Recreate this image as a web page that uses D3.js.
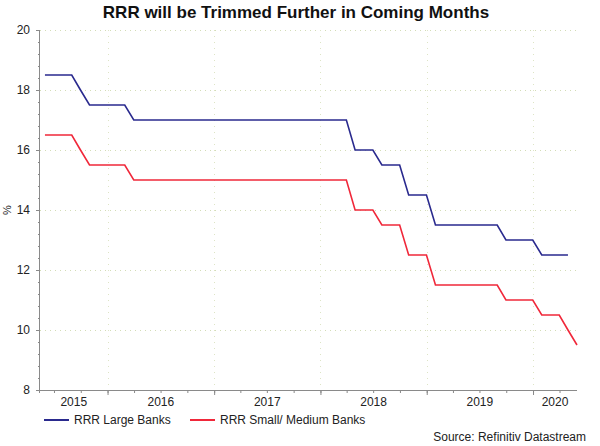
<!DOCTYPE html>
<html>
<head>
<meta charset="utf-8">
<script src="https://cdn.jsdelivr.net/npm/d3@7"></script>
<style>
  body { margin: 0; background: #fff; }
  text { font-family: "Liberation Sans", Arial, sans-serif; }
</style>
</head>
<body>
<svg id="chart" width="600" height="446"></svg>
<script>
// month-end observations, year-month
var months = [
  '2015-05','2015-06','2015-07','2015-08','2015-09','2015-10','2015-11','2015-12',
  '2016-01','2016-02','2016-03','2016-04','2016-05','2016-06','2016-07','2016-08','2016-09','2016-10','2016-11','2016-12',
  '2017-01','2017-02','2017-03','2017-04','2017-05','2017-06','2017-07','2017-08','2017-09','2017-10','2017-11','2017-12',
  '2018-01','2018-02','2018-03','2018-04','2018-05','2018-06','2018-07','2018-08','2018-09','2018-10','2018-11','2018-12',
  '2019-01','2019-02','2019-03','2019-04','2019-05','2019-06','2019-07','2019-08','2019-09','2019-10','2019-11','2019-12',
  '2020-01','2020-02','2020-03','2020-04','2020-05'
];
var largeBanks = [
  18.5,18.5,18.5,18.5,18.0,17.5,17.5,17.5,
  17.5,17.5,17.0,17.0,17.0,17.0,17.0,17.0,17.0,17.0,17.0,17.0,
  17.0,17.0,17.0,17.0,17.0,17.0,17.0,17.0,17.0,17.0,17.0,17.0,
  17.0,17.0,17.0,16.0,16.0,16.0,15.5,15.5,15.5,14.5,14.5,14.5,
  13.5,13.5,13.5,13.5,13.5,13.5,13.5,13.5,13.0,13.0,13.0,13.0,
  12.5,12.5,12.5,12.5
];
var smallMediumBanks = [
  16.5,16.5,16.5,16.5,16.0,15.5,15.5,15.5,
  15.5,15.5,15.0,15.0,15.0,15.0,15.0,15.0,15.0,15.0,15.0,15.0,
  15.0,15.0,15.0,15.0,15.0,15.0,15.0,15.0,15.0,15.0,15.0,15.0,
  15.0,15.0,15.0,14.0,14.0,14.0,13.5,13.5,13.5,12.5,12.5,12.5,
  11.5,11.5,11.5,11.5,11.5,11.5,11.5,11.5,11.0,11.0,11.0,11.0,
  10.5,10.5,10.5,10.0,9.5
];
var yearLabels = ['2015','2016','2017','2018','2019','2020'];
var yTicks = [8, 10, 12, 14, 16, 18, 20];
var seriesNames = ['RRR Large Banks', 'RRR Small/ Medium Banks'];

(function () {
var colors = ['#2a2a8e', '#f0283a'];
var svg = d3.select('#chart');
var left = 40, right = 577, plotTop = 30, plotBottom = 390;

function monthEnd(s) {
    var p = s.split('-');
    return new Date(+p[0], +p[1], 0);
}

var x = d3.scaleTime()
    .domain([new Date(2015, 4, 14), new Date(2020, 4, 31)])
    .range([left, right]);
var y = d3.scaleLinear().domain([8, 20]).range([plotBottom, plotTop]);

// title
svg.append('text')
    .attr('x', 296).attr('y', 18)
    .attr('text-anchor', 'middle')
    .style('font-size', '17px').style('font-weight', 'bold')
    .attr('fill', '#111')
    .text('RRR will be Trimmed Further in Coming Months');

// grid (faint dotted)
var yearStarts = yearLabels.map(function(d){ return new Date(+d, 0, 1); })
    .filter(function(d){ return d > x.domain()[0]; });
svg.append('g').selectAll('line').data(yTicks.filter(function(d){ return d > 8; }))
  .enter().append('line')
    .attr('x1', left).attr('x2', right)
    .attr('y1', function(d){ return y(d) + 0.5; }).attr('y2', function(d){ return y(d) + 0.5; })
    .attr('stroke', '#d3dcb6').attr('stroke-dasharray', '1,4');
svg.append('g').selectAll('line').data(yearStarts)
  .enter().append('line')
    .attr('x1', function(d){ return Math.round(x(d)) + 0.5; })
    .attr('x2', function(d){ return Math.round(x(d)) + 0.5; })
    .attr('y1', plotTop).attr('y2', plotBottom)
    .attr('stroke', '#dde4c6').attr('stroke-dasharray', '1,5');

// y axis
var yAxis = svg.append('g').attr('transform', 'translate(' + left + ',0)')
    .call(d3.axisLeft(y).tickValues(yTicks).tickSize(4).tickPadding(6));
svg.append('g').attr('transform', 'translate(' + left + ',0)')
    .call(d3.axisLeft(y).tickValues(d3.range(8, 20.01, 0.4)).tickSize(2).tickFormat(''))
    .select('.domain').remove();

// x axis: quarter ticks and year ticks
var xAxis = svg.append('g').attr('transform', 'translate(0,' + plotBottom + ')')
    .call(d3.axisBottom(x).ticks(d3.timeMonth.every(3)).tickSize(3).tickFormat(''));
svg.append('g').attr('transform', 'translate(0,' + plotBottom + ')')
    .call(d3.axisBottom(x).tickValues(yearStarts).tickSize(5).tickFormat(''))
    .select('.domain').remove();

svg.selectAll('.domain, .tick line').attr('stroke', '#8a8a8a');
xAxis.select('.domain').attr('d', 'M' + left + ',0.5H' + right);
yAxis.select('.domain').attr('d', 'M-0.5,' + plotTop + 'V' + (plotBottom + 3));
yAxis.selectAll('.tick text')
    .style('font-size', '12px').attr('fill', '#222');

// year labels centred on the visible part of each year
var d0 = x.domain()[0], d1 = x.domain()[1];
svg.append('g').selectAll('text').data(yearLabels)
  .enter().append('text')
    .attr('x', function(d){
        var a = new Date(+d, 0, 1), b = new Date(+d + 1, 0, 1);
        return (x(a < d0 ? d0 : a) + x(b > d1 ? d1 : b)) / 2;
    })
    .attr('y', 406)
    .attr('text-anchor', 'middle')
    .style('font-size', '12px').attr('fill', '#222')
    .text(function(d){ return d; });

// y label
svg.append('text')
    .attr('transform', 'translate(11,210) rotate(-90)')
    .attr('text-anchor', 'middle')
    .style('font-size', '11px').attr('fill', '#222')
    .text('%');

// lines
var line = d3.line()
    .x(function(d){ return x(d.date); })
    .y(function(d){ return y(d.value); });
[largeBanks, smallMediumBanks].forEach(function(vals, i) {
    var pts = vals.map(function(v, j){ return {date: monthEnd(months[j]), value: v}; });
    svg.append('path').datum(pts)
        .attr('d', line)
        .attr('fill', 'none')
        .attr('stroke', colors[i])
        .attr('stroke-width', 1.6);
});

// legend
var legendX = [44, 190];
seriesNames.forEach(function(name, i) {
    svg.append('line')
        .attr('x1', legendX[i]).attr('x2', legendX[i] + 25)
        .attr('y1', 420).attr('y2', 420)
        .attr('stroke', colors[i]).attr('stroke-width', 2);
    svg.append('text')
        .attr('x', legendX[i] + 30).attr('y', 424)
        .style('font-size', '12px').attr('fill', '#222')
        .text(name);
});

svg.append('text')
    .attr('x', 586).attr('y', 441)
    .attr('text-anchor', 'end')
    .style('font-size', '12px').attr('fill', '#222')
    .text('Source: Refinitiv Datastream');
})();
</script>
</body>
</html>
